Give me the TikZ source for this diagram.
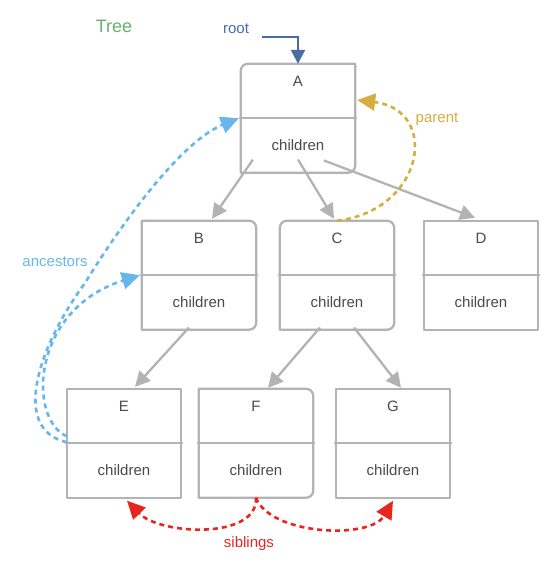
\documentclass[tikz,border=0pt]{standalone}
\usepackage{fontspec}
\setmainfont{Liberation Sans}
\usetikzlibrary{arrows.meta,calc}

\definecolor{boxgray}{HTML}{B3B3B3}
\definecolor{txtgray}{HTML}{4A4A4A}
\definecolor{treegreen}{HTML}{6AAE6E}
\definecolor{rootblue}{HTML}{4A6BA6}
\definecolor{parentgold}{HTML}{D6AD40}
\definecolor{ancblue}{HTML}{68B7EC}
\definecolor{sibred}{HTML}{E8261F}

% one tree node: upper half carries the name, lower half the children slot
\newcommand\treenode[4]{%
  \node[head] (#1) at (#2,#3+27) {#4};
  \node[half] (#1c) at (#2,#3+81.5) {children};
}
% frame of a tree node; #2..#5 = corner style for NW, NE, SE, SW
% (a corner option takes effect at the end of the segment that follows it)
\newcommand\treeframe[5]{%
  \draw[outline] (#1.north) [#3] -- (#1.north east) [#4] -- (#1c.south east) [#5]
     -- (#1c.south west) [#2] -- (#1.north west) [sharp corners] -- cycle;
  \draw[outline] ($(#1.south west)+(-1,0)$) -- ($(#1.south east)+(1,0)$);
}

\begin{document}
\begin{tikzpicture}[x=1pt,y=-1pt,
  half/.style={minimum width=114pt, minimum height=54pt, inner sep=0pt,
    font=\fontsize{15}{17}\selectfont, text=txtgray},
  head/.style={half, text depth=20pt},
  outline/.style={draw=boxgray, line width=2.3pt, line join=round, line cap=round},
  rc/.style={rounded corners=7pt},
  sc/.style={sharp corners},
  link/.style={draw=boxgray, line width=2.3pt, -{Triangle[length=15pt,width=15pt]}},
  label/.style={font=\fontsize{15}{17}\selectfont, inner sep=0pt},
  dashy/.style={line width=2.6pt, dash pattern=on 5pt off 4pt},
  bigtip/.style={-{Triangle[length=18pt,width=17pt]}},
]
\useasboundingbox (0,0) rectangle (554,563);

% nodes
\treenode{A}{298}{64}{A}
\treenode{B}{199}{221}{B}
\treenode{C}{337}{221}{C}
\treenode{D}{481}{221}{D}
\treenode{E}{124}{389}{E}
\treenode{F}{256}{389}{F}
\treenode{G}{393}{389}{G}

\treeframe{A}{rc}{sc}{rc}{sc}
\treeframe{B}{sc}{rc}{rc}{sc}
\treeframe{C}{rc}{rc}{rc}{sc}
\treeframe{D}{sc}{sc}{sc}{sc}
\treeframe{E}{sc}{sc}{sc}{sc}
\treeframe{F}{sc}{rc}{rc}{sc}
\treeframe{G}{sc}{sc}{sc}{sc}

% parent -> child links
\draw[link] ($(Ac)+(-45,14)$) -- ($(B.north)+(13,-2)$);
\draw[link] ($(Ac)+(0,14)$) -- ($(C.north)+(-3,-2)$);
\draw[link] ($(Ac)+(26,15)$) -- ($(D.north)+(-6,-3)$);
\draw[link] ($(Bc)+(-10,25)$) -- ($(E.north)+(11,-2)$);
\draw[link] ($(Cc)+(-17,25)$) -- ($(F.north)+(12,-1)$);
\draw[link] ($(Cc)+(17,25)$) -- ($(G.north)+(8,-1)$);

% title
\node[font=\fontsize{18}{20}\selectfont, text=treegreen] (title) at (114,26) {Tree};

% root pointer
\node[label, text=rootblue] (root) at (236,29) {root};
\coordinate (rootstart) at (262,37);
\draw[rootblue, line width=2.3pt, -{Triangle[length=14pt,width=14pt]}]
  (rootstart) -| (A.north);

% parent
\node[label, text=parentgold] (parent) at (437,119) {parent};
\draw[parentgold, dashy, bigtip]
  (C.north) .. controls (425,210) and (440,110) .. ($(A.east)+(2,9)$);

% ancestors
\node[label, text=ancblue] (ancestors) at (55,262) {ancestors};
\draw[ancblue, dashy, bigtip]
  ($(E.south west)+(0,-1)$) .. controls (12,430) and (36,350) .. (85,283)
  .. controls (130,210) and (185,140) .. ($(A.south west)+(-2,0)$);
\draw[ancblue, dashy, bigtip]
  ($(E.south west)+(0,-7)$) .. controls (28,420) and (30,310) .. ($(B.south west)+(-2,0)$);

% siblings
\node[label, text=sibred] (siblings) at (249,544) {siblings};
\draw[sibred, dashy, bigtip]
  (Fc.south) .. controls (258,540) and (160,535) .. ($(Ec.south)+(3,3)$);
\draw[sibred, dashy, bigtip]
  (Fc.south) .. controls (270,535) and (370,540) .. ($(Gc.south)+(0,3)$);
\end{tikzpicture}
\end{document}
